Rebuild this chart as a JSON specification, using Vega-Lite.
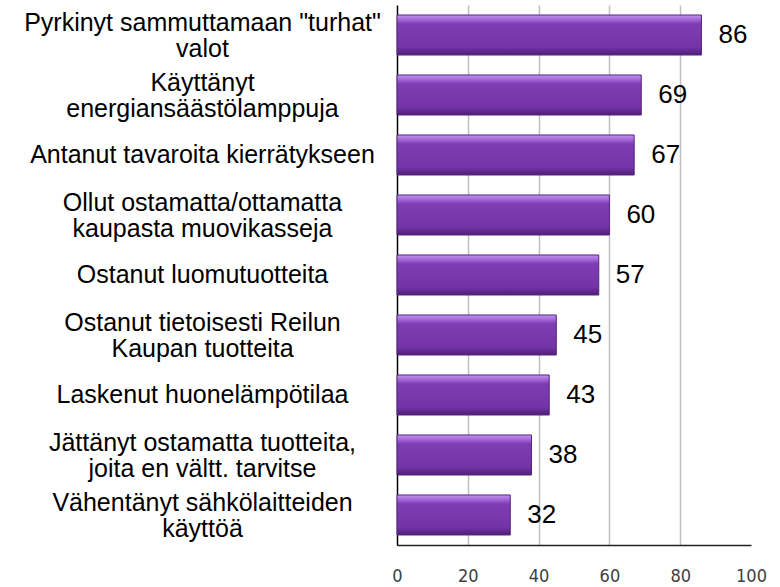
{
  "$schema": "https://vega.github.io/schema/vega-lite/v6.json",
  "width": 354,
  "height": 540,
  "autosize": {"type": "none"},
  "padding": {"left": 397, "top": 5, "right": 29, "bottom": 42},
  "background": "white",
  "config": {"view": {"stroke": null}},
  "data": {
    "values": [
      {"category": "Pyrkinyt sammuttamaan \"turhat\"\nvalot", "value": 86},
      {"category": "Käyttänyt\nenergiansäästölamppuja", "value": 69},
      {"category": "Antanut tavaroita kierrätykseen", "value": 67},
      {"category": "Ollut ostamatta/ottamatta\nkaupasta muovikasseja", "value": 60},
      {"category": "Ostanut luomutuotteita", "value": 57},
      {"category": "Ostanut tietoisesti Reilun\nKaupan tuotteita", "value": 45},
      {"category": "Laskenut huonelämpötilaa", "value": 43},
      {"category": "Jättänyt ostamatta tuotteita,\njoita en vältt. tarvitse", "value": 38},
      {"category": "Vähentänyt sähkölaitteiden\nkäyttöä", "value": 32}
    ]
  },
  "encoding": {
    "y": {
      "field": "category",
      "type": "nominal",
      "sort": null,
      "scale": {"paddingInner": 0.333, "paddingOuter": 0.1667},
      "axis": {
        "title": null,
        "ticks": false,
        "domain": true,
        "domainColor": "#000000",
        "domainWidth": 1.5,
        "labelAlign": "center",
        "labelPadding": 195,
        "labelLimit": 420,
        "labelFont": "Liberation Sans",
        "labelFontSize": 25,
        "labelColor": "#000000",
        "labelLineHeight": 26,
        "labelOffset": {"condition": {"test": "indexof(datum.label, '\\n') >= 0", "value": -12}, "value": 0},
        "labelExpr": "split(datum.label, '\\n')"
      }
    },
    "x": {
      "field": "value",
      "type": "quantitative",
      "scale": {"domain": [0, 100], "nice": false},
      "axis": {
        "title": null,
        "values": [0, 20, 40, 60, 80, 100],
        "ticks": false,
        "domain": true,
        "domainColor": "#222222",
        "domainWidth": 1.5,
        "grid": true,
        "gridColor": "#c0c0c0",
        "gridWidth": 1.5,
        "gridOpacity": {"condition": {"test": "datum.value == 100 || datum.value == 0", "value": 0}, "value": 1},
        "labelPadding": 22,
        "labelFont": "Liberation Sans Narrow, DejaVu Sans Condensed, Roboto Condensed, Liberation Sans",
        "labelFontSize": 18,
        "labelColor": "#404040",
        "labelFlush": false
      }
    }
  },
  "layer": [
    {
      "mark": {
        "type": "bar",
        "stroke": "#55267f",
        "strokeWidth": 1,
        "color": {
          "gradient": "linear",
          "x1": 0, "y1": 0, "x2": 0, "y2": 1,
          "stops": [
            {"offset": 0, "color": "#c194ec"},
            {"offset": 0.12, "color": "#a265d8"},
            {"offset": 0.22, "color": "#7e3db2"},
            {"offset": 0.8, "color": "#7434a6"},
            {"offset": 1, "color": "#4e1e77"}
          ]
        }
      }
    },
    {
      "mark": {
        "type": "text",
        "align": "left",
        "baseline": "middle",
        "dx": 17,
        "font": "Liberation Sans",
        "fontSize": 26,
        "color": "#000000"
      },
      "encoding": {
        "text": {"field": "value", "type": "quantitative"}
      }
    }
  ]
}
